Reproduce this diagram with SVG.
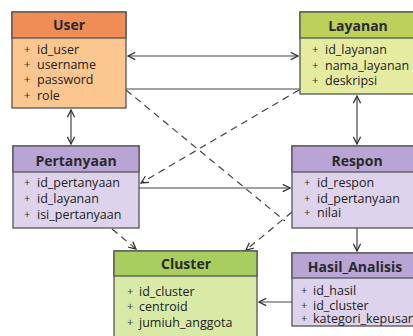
<svg xmlns="http://www.w3.org/2000/svg" width="413" height="336" viewBox="0 0 413 336">
  <defs>
    <marker id="arr" viewBox="0 0 10 10" refX="9" refY="5" markerWidth="9" markerHeight="9" markerUnits="userSpaceOnUse" orient="auto-start-reverse">
      <path d="M1,1 L9,5 L1,9" fill="none" stroke="#333" stroke-width="1.4"/>
    </marker>
    <style>
      .box { stroke: #555; stroke-width: 1.3; }
      .title { font-family: "Open Sans", "Noto Sans", sans-serif; font-size: 14px; font-weight: bold; fill: #2a2a2a; text-anchor: middle; }
      .attr { font-family: "Open Sans", "Noto Sans", sans-serif; font-size: 12.5px; fill: #222; }
      .plus { font-family: "Open Sans", "Noto Sans", sans-serif; font-size: 11px; fill: #333; }
      .ln { fill: none; stroke: #444; stroke-width: 1.2; }
      .dash { stroke-dasharray: 7 5; }
      .orange-h { fill: #F08C55; } .orange-b { fill: #FBC690; }
      .lime-h { fill: #BCD05A; } .lime-b { fill: #E5ECA2; }
      .purple-h { fill: #B8A5D5; } .purple-b { fill: #DED3EC; }
      .green-h { fill: #A7CE5E; } .green-b { fill: #D8EAA5; }
    </style>
  </defs>
  <rect width="413" height="336" fill="#fff"/>

  <!-- connectors -->
  <g id="connectors">
    <line class="ln" x1="128" y1="56" x2="298" y2="56" marker-start="url(#arr)" marker-end="url(#arr)"/>
    <line class="ln" x1="126" y1="89" x2="300" y2="89"/>
    <line class="ln dash" x1="299" y1="90" x2="141" y2="183" marker-end="url(#arr)"/>
    <line class="ln dash" x1="126" y1="90" x2="285" y2="221"/>
    <line class="ln dash" x1="292" y1="212" x2="246" y2="250" marker-end="url(#arr)"/>
    <line class="ln" x1="71" y1="110" x2="71" y2="144" marker-start="url(#arr)" marker-end="url(#arr)"/>
    <line class="ln" x1="357" y1="96" x2="357" y2="144" marker-start="url(#arr)" marker-end="url(#arr)"/>
    <line class="ln" x1="139" y1="188" x2="290" y2="188" marker-end="url(#arr)"/>
    <line class="ln dash" x1="112" y1="229" x2="136" y2="249" marker-end="url(#arr)"/>
    <line class="ln" x1="357" y1="228" x2="357" y2="251" marker-end="url(#arr)"/>
    <line class="ln" x1="292" y1="302" x2="259" y2="302" marker-end="url(#arr)"/>
  </g>

  <!-- User -->
  <g id="user">
    <rect class="box orange-b" x="12" y="12" width="114" height="96"/>
    <rect class="box orange-h" x="12" y="12" width="114" height="26"/>
    <text class="title" x="69" y="30">User</text>
    <text class="plus" x="24" y="53">+</text><text class="attr" x="37" y="54">id_user</text>
    <text class="plus" x="24" y="68">+</text><text class="attr" x="37" y="69">username</text>
    <text class="plus" x="24" y="83">+</text><text class="attr" x="37" y="84">password</text>
    <text class="plus" x="24" y="99">+</text><text class="attr" x="37" y="100">role</text>
  </g>

  <!-- Layanan -->
  <g id="layanan">
    <rect class="box lime-b" x="300" y="12" width="120" height="82"/>
    <rect class="box lime-h" x="300" y="12" width="120" height="26"/>
    <text class="title" x="358" y="31">Layanan</text>
    <text class="plus" x="312" y="53">+</text><text class="attr" x="325" y="54">id_layanan</text>
    <text class="plus" x="312" y="69">+</text><text class="attr" x="325" y="70">nama_layanan</text>
    <text class="plus" x="312" y="84">+</text><text class="attr" x="325" y="85">deskripsi</text>
  </g>

  <!-- Pertanyaan -->
  <g id="pertanyaan">
    <rect class="box purple-b" x="13" y="146" width="126" height="82"/>
    <rect class="box purple-h" x="13" y="146" width="126" height="26"/>
    <text class="title" x="76" y="166">Pertanyaan</text>
    <text class="plus" x="24" y="186">+</text><text class="attr" x="37" y="187">id_pertanyaan</text>
    <text class="plus" x="24" y="202">+</text><text class="attr" x="37" y="203">id_layanan</text>
    <text class="plus" x="24" y="218">+</text><text class="attr" x="37" y="219">isi_pertanyaan</text>
  </g>

  <!-- Respon -->
  <g id="respon">
    <rect class="box purple-b" x="292" y="146" width="130" height="82"/>
    <rect class="box purple-h" x="292" y="146" width="130" height="26"/>
    <text class="title" x="357" y="166">Respon</text>
    <text class="plus" x="304" y="186">+</text><text class="attr" x="317" y="187">id_respon</text>
    <text class="plus" x="304" y="202">+</text><text class="attr" x="317" y="203">id_pertanyaan</text>
    <text class="plus" x="304" y="216">+</text><text class="attr" x="317" y="217">nilai</text>
  </g>

  <!-- Cluster -->
  <g id="cluster">
    <rect class="box green-b" x="114" y="251" width="143" height="100"/>
    <rect class="box green-h" x="114" y="251" width="143" height="25"/>
    <text class="title" x="186" y="269">Cluster</text>
    <text class="plus" x="127" y="295">+</text><text class="attr" x="139" y="296">id_cluster</text>
    <text class="plus" x="127" y="310">+</text><text class="attr" x="139" y="311">centroid</text>
    <text class="plus" x="127" y="326">+</text><text class="attr" x="139" y="327">jumiuh_anggota</text>
  </g>

  <!-- Hasil_Analisis -->
  <g id="hasil_analisis">
    <rect class="box purple-b" x="292" y="253" width="130" height="73"/>
    <rect class="box purple-h" x="292" y="253" width="130" height="25"/>
    <text class="title" x="355" y="272">Hasil_Analisis</text>
    <text class="plus" x="301" y="294">+</text><text class="attr" x="313" y="295">id_hasil</text>
    <text class="plus" x="301" y="309">+</text><text class="attr" x="313" y="310">id_cluster</text>
    <text class="plus" x="301" y="322">+</text><text class="attr" x="313" y="323">kategori_kepusan</text>
  </g>
</svg>
